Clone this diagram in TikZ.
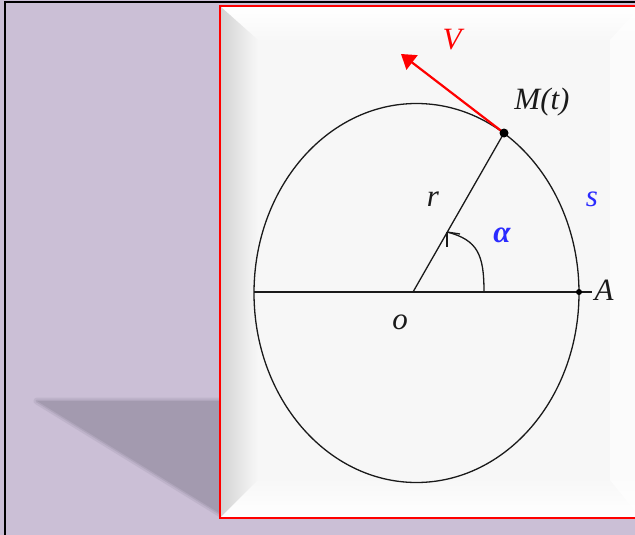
\documentclass[tikz,border=0pt]{standalone}
\usepackage{fontspec}
\setmainfont{Liberation Serif}
\usetikzlibrary{arrows.meta}
\definecolor{lav}{HTML}{CBBFD6}
\definecolor{shad}{HTML}{A39AAF}
\definecolor{panelbg}{HTML}{F7F7F7}
\definecolor{lblue}{HTML}{2B2BFF}
\definecolor{ink}{HTML}{1A1A1A}
\begin{document}
\begin{tikzpicture}[x=1pt,y=-1pt,
  lbl/.style={font=\fontsize{31}{31}\selectfont\itshape, inner sep=0pt, text=ink},
  curve/.style={line width=1.3pt, draw=ink}]
\useasboundingbox (0,0) rectangle (635,535);
\fill[lav] (0,0) rectangle (635,535);
% outer frame
\draw[line width=2pt, black] (5,536) -- (5,2) -- (636,2);
% shadow
\draw[shad, line width=7pt, opacity=0.3, line join=round] (37,401) -- (221,401) -- (221,514) -- cycle;
\draw[shad, line width=3pt, opacity=0.5, line join=round] (37,401) -- (221,401) -- (221,514) -- cycle;
\fill[shad] (37,401) -- (221,401) -- (221,514) -- cycle;
% panel with bevel
\fill[panelbg] (220,6) rectangle (640,518);
\shade[top color=white, bottom color=white!97!black] (221,7) -- (640,7) -- (640,40) -- (258,40) -- cycle;
\shade[left color=white!83!black, right color=white!97!black] (221,7) -- (258,40) -- (258,480) -- (221,517) -- cycle;
\shade[top color=white!97!black, bottom color=white] (221,517) -- (258,480) -- (640,480) -- (640,517) -- cycle;
\fill[white, opacity=0.6] (610,40) -- (640,7) -- (640,517) -- (610,480) -- cycle;
\draw[red, line width=2pt] (640,6) -- (220,6) -- (220,518) -- (640,518);
% geometry
\coordinate (C) at (416.5,293);
\coordinate (O) at (413,292);
\coordinate (M) at (504,133);
\coordinate (A) at (579,292);
\coordinate (L) at (254,292);
\coordinate (R) at (592,292);
\coordinate (Ast) at (484,292);
\coordinate (Atip) at (447,232);
\coordinate (Vtip) at (401,54);
\draw[curve] (C) ellipse [x radius=162.5, y radius=189.5];
\draw[curve] (L) -- (R);
\draw[curve] (O) -- (M);
\draw[curve] (Ast) .. controls (484,255) and (478,240) .. (Atip);
\draw[curve] (Atip) -- ++(0,15);
\draw[curve] (Atip) -- ++(13,2);
\draw[red, line width=2.2pt, -{Triangle[length=14pt,width=18pt]}] (M) -- (Vtip);
\fill[black] (M) circle (4.5);
\fill[black] (A) circle (3);
% labels
\node[lbl, text=red] (V) at (452,40) {V};
\node[lbl] (Mt) at (542,102) {M(t)};
\node[lbl] (r) at (433,199) {r};
\node[lbl, text=lblue] (s) at (592,199) {s};
\node[lbl, text=lblue, font=\fontsize{31}{31}\selectfont\bfseries\itshape] (al) at (502,235) {α};
\node[lbl] (Al) at (604,290) {A};
\node[lbl] (o) at (400,322) {o};
\end{tikzpicture}
\end{document}
